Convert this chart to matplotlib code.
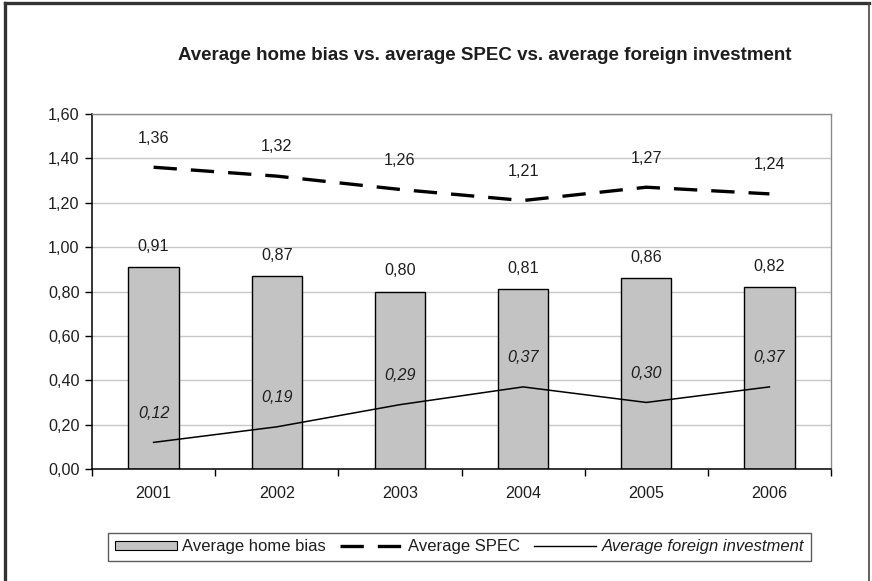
import numpy as np
import matplotlib
matplotlib.use("Agg")
import matplotlib.pyplot as plt
from matplotlib.lines import Line2D
from matplotlib.patches import Patch

plt.rcParams['font.family'] = ['Liberation Sans', 'DejaVu Sans']

# ─── Data ─────────────────────────────────────────────
years = ['2001', '2002', '2003', '2004', '2005', '2006']
home_bias = [0.91, 0.87, 0.80, 0.81, 0.86, 0.82]
spec = [1.36, 1.32, 1.26, 1.21, 1.27, 1.24]
foreign_inv = [0.12, 0.19, 0.29, 0.37, 0.30, 0.37]
y_ticks = [0.0, 0.2, 0.4, 0.6, 0.8, 1.0, 1.2, 1.4, 1.6]


def comma(v):
    return f"{v:.2f}".replace('.', ',')


FS = 11.6
TXT = '#1e1e1e'

fig = plt.figure(figsize=(8.72, 5.81), dpi=100)
ax = fig.add_axes([92 / 872, 1 - 469 / 581, (831 - 92) / 872, (469 - 114) / 581])

x = np.arange(len(years))

ax.bar(x, home_bias, width=0.41, color='#c3c3c3', edgecolor='black',
       linewidth=1.0, zorder=2)
ax.plot(x, spec, color='black', linewidth=2.4, linestyle=(0, (7, 4.2)),
        zorder=3)
ax.plot(x, foreign_inv, color='black', linewidth=1.1, zorder=3)

# data labels
for xi, v in zip(x, home_bias):
    ax.annotate(comma(v), (xi, v), xytext=(0, 15), textcoords='offset points',
                ha='center', va='center', fontsize=FS, color=TXT)
for xi, v in zip(x, spec):
    ax.annotate(comma(v), (xi, v), xytext=(0, 21), textcoords='offset points',
                ha='center', va='center', fontsize=FS, color=TXT)
for xi, v in zip(x, foreign_inv):
    ax.annotate(comma(v), (xi, v), xytext=(0, 21), textcoords='offset points',
                ha='center', va='center', fontsize=FS, style='italic',
                color=TXT)

# axes
ax.set_xlim(-0.5, len(years) - 0.5)
ax.set_ylim(0, 1.6)
ax.set_yticks(y_ticks)
ax.set_yticklabels([comma(t) for t in y_ticks], fontsize=FS, color=TXT)
ax.set_xticks(np.arange(len(years) + 1) - 0.5)
ax.set_xticklabels([])
ax.set_xticks(x, minor=True)
ax.set_xticklabels(years, minor=True, fontsize=FS, color=TXT)
ax.tick_params(axis='x', which='major', direction='out', length=5, width=1)
ax.tick_params(axis='x', which='minor', length=0, pad=12)
ax.tick_params(axis='y', direction='out', length=5, width=1, pad=4)

ax.yaxis.grid(True, color='#c8c8c8', linewidth=1.0, zorder=0)
ax.set_axisbelow(True)
for side in ('left', 'bottom'):
    ax.spines[side].set_color('black')
    ax.spines[side].set_linewidth(1.1)
for side in ('top', 'right'):
    ax.spines[side].set_color('#8a8a8a')
    ax.spines[side].set_linewidth(1.0)

fig.text(485 / 872, 1 - 60 / 581,
         'Average home bias vs. average SPEC vs. average foreign investment',
         ha='center', va='baseline', fontsize=13.5, fontweight='bold',
         color=TXT)

# legend
handles = [
    Patch(facecolor='#c3c3c3', edgecolor='black', linewidth=0.8),
    Line2D([], [], color='black', linewidth=2.4, linestyle=(0, (7, 4.2))),
    Line2D([], [], color='black', linewidth=1.0),
]
labels = ['Average home bias', 'Average SPEC', 'Average foreign investment']
leg = fig.legend(handles, labels, loc='center', ncol=3,
                 bbox_to_anchor=(459.5 / 872, 1 - 547 / 581),
                 fontsize=12, frameon=True, fancybox=False,
                 handlelength=3.7, handleheight=0.5, handletextpad=0.35,
                 columnspacing=0.85, borderpad=0.4, borderaxespad=0)
leg.get_frame().set_edgecolor('#333333')
leg.get_frame().set_linewidth(1.0)
for t in leg.get_texts():
    t.set_color(TXT)
leg.get_texts()[2].set_style('italic')

# outer frame
fig.add_artist(Line2D([5 / 872, 5 / 872], [0, 1 - 3 / 581], color='#333333',
                      linewidth=2.4, transform=fig.transFigure))
fig.add_artist(Line2D([5 / 872, 868.5 / 872], [1 - 3 / 581, 1 - 3 / 581],
                      color='#333333', linewidth=2.4, transform=fig.transFigure))
fig.add_artist(Line2D([868.5 / 872, 868.5 / 872], [0, 1 - 3 / 581],
                      color='#444444', linewidth=1.2, transform=fig.transFigure))

fig.savefig('out.png', dpi=100)
